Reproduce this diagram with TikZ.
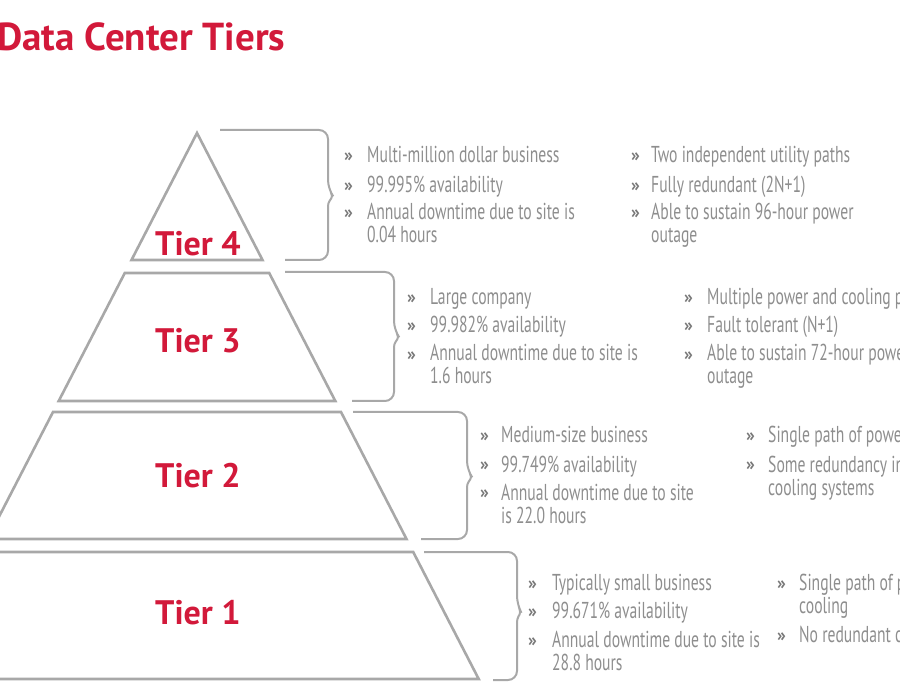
\documentclass[tikz,border=0pt]{standalone}
\usepackage{fontspec}
\setmainfont{PT Sans}
\newfontfamily\headfont{PT Sans}
\newfontfamily\itemfont[FakeStretch=0.68]{PT Sans}
\definecolor{tierred}{HTML}{D2193A}
\definecolor{textgray}{HTML}{8E8E8E}
\definecolor{bulletgray}{HTML}{787878}
\definecolor{linegray}{HTML}{A8A8A8}
\tikzstyle{heading} = [font=\headfont\bfseries\fontsize{39}{39}\selectfont, text=tierred, anchor=base west, inner sep=0pt]
\tikzstyle{tierlabel} = [font=\headfont\bfseries\fontsize{34}{34}\selectfont, text=tierred, anchor=base, inner sep=0pt]
\tikzstyle{tier} = [draw=linegray, line width=2.6pt, line join=miter]
\tikzstyle{brace} = [draw=linegray, line width=2pt, rounded corners=9pt]
\tikzstyle{item} = [font=\itemfont\fontsize{23}{23}\selectfont, text=textgray, anchor=base west, align=left, inner sep=0pt]
\tikzstyle{bul} = [font=\headfont\bfseries\fontsize{18}{18}\selectfont, text=bulletgray, anchor=base west, inner sep=0pt]

\begin{document}
\begin{tikzpicture}[x=1pt, y=-1pt]
		\useasboundingbox (0,0) rectangle (900,700);
		\clip (0,0) rectangle (900,700);
		% pyramid
		\draw [tier] (197,133) -- (262.5,260) -- (131.5,260) -- cycle;
		\draw [tier] (124.8,273) -- (269.2,273) -- (335.3,401) -- (58.7,401) -- cycle;
		\draw [tier] (53,412) -- (341,412) -- (406.5,539) -- (-12.5,539) -- cycle;
		\draw [tier] (-19.2,552) -- (413.2,552) -- (478.7,679) -- (-84.7,679) -- cycle;
		% braces
		\draw [brace] (220,130) -- (328,130) -- (328,189) [rounded corners=3pt] -- (333,196) -- (328,203) [rounded corners=9pt] -- (328,260) -- (285,260);
		\draw [brace] (285,272) -- (394,272) -- (394,330) [rounded corners=3pt] -- (399,337) -- (394,344) [rounded corners=9pt] -- (394,401) -- (352,401);
		\draw [brace] (353,412) -- (467,412) -- (467,470) [rounded corners=3pt] -- (472,477) -- (467,484) [rounded corners=9pt] -- (467,539) -- (421,539);
		\draw [brace] (424,552) -- (517,552) -- (517,605) [rounded corners=3pt] -- (521,612) -- (517,619) [rounded corners=9pt] -- (517,680) -- (493,680);

		\node (heading) [heading] at (-3,51) {Data Center Tiers};
		\node (tier4) [tierlabel] at (198,256) {Tier 4};
		\node (tier3) [tierlabel] at (198,353) {Tier 3};
		\node (tier2) [tierlabel] at (198,488) {Tier 2};
		\node (tier1) [tierlabel] at (198,624) {Tier 1};

		% tier 4 (two-line items sit on their last baseline)
		\node (b4a) [bul] at (344,162) {»};
		\node (i4a) [item] at (367,163) {Multi-million dollar business};
		\node (b4b) [bul] at (344,192) {»};
		\node (i4b) [item] at (367,193) {99.995\% availability};
		\node (b4c) [bul] at (344,219) {»};
		\node (i4c) [item] at (367,243) {Annual downtime due to site is\\0.04 hours};
		\node (b4d) [bul] at (631,162) {»};
		\node (i4d) [item] at (651,163) {Two independent utility paths};
		\node (b4e) [bul] at (631,192) {»};
		\node (i4e) [item] at (651,193) {Fully redundant (2N+1)};
		\node (b4f) [bul] at (631,219) {»};
		\node (i4f) [item] at (651,243) {Able to sustain 96-hour power\\outage};

		% tier 3
		\node (b3a) [bul] at (407,304) {»};
		\node (i3a) [item] at (430,305) {Large company};
		\node (b3b) [bul] at (407,332) {»};
		\node (i3b) [item] at (430,333) {99.982\% availability};
		\node (b3c) [bul] at (407,361) {»};
		\node (i3c) [item] at (430,384) {Annual downtime due to site is\\1.6 hours};
		\node (b3d) [bul] at (684,304) {»};
		\node (i3d) [item] at (707,305) {Multiple power and cooling paths};
		\node (b3e) [bul] at (684,332) {»};
		\node (i3e) [item] at (707,333) {Fault tolerant (N+1)};
		\node (b3f) [bul] at (684,361) {»};
		\node (i3f) [item] at (707,384) {Able to sustain 72-hour power\\outage};

		% tier 2
		\node (b2a) [bul] at (480,442) {»};
		\node (i2a) [item] at (501,443) {Medium-size business};
		\node (b2b) [bul] at (480,471) {»};
		\node (i2b) [item] at (501,472) {99.749\% availability};
		\node (b2c) [bul] at (480,499) {»};
		\node (i2c) [item] at (501,523) {Annual downtime due to site\\is 22.0 hours};
		\node (b2d) [bul] at (746,442) {»};
		\node (i2d) [item] at (768,443) {Single path of power and cooling};
		\node (b2e) [bul] at (746,471) {»};
		\node (i2e) [item] at (768,495) {Some redundancy in power and\\cooling systems};

		% tier 1
		\node (b1a) [bul] at (528,589) {»};
		\node (i1a) [item] at (552,590) {Typically small business};
		\node (b1b) [bul] at (528,617) {»};
		\node (i1b) [item] at (552,618) {99.671\% availability};
		\node (b1c) [bul] at (528,646) {»};
		\node (i1c) [item] at (552,670) {Annual downtime due to site is\\28.8 hours};
		\node (b1d) [bul] at (777,589) {»};
		\node (i1d) [item] at (799,613) {Single path of power and\\cooling};
		\node (b1e) [bul] at (777,641) {»};
		\node (i1e) [item] at (799,642) {No redundant components};
	\end{tikzpicture}
\end{document}
